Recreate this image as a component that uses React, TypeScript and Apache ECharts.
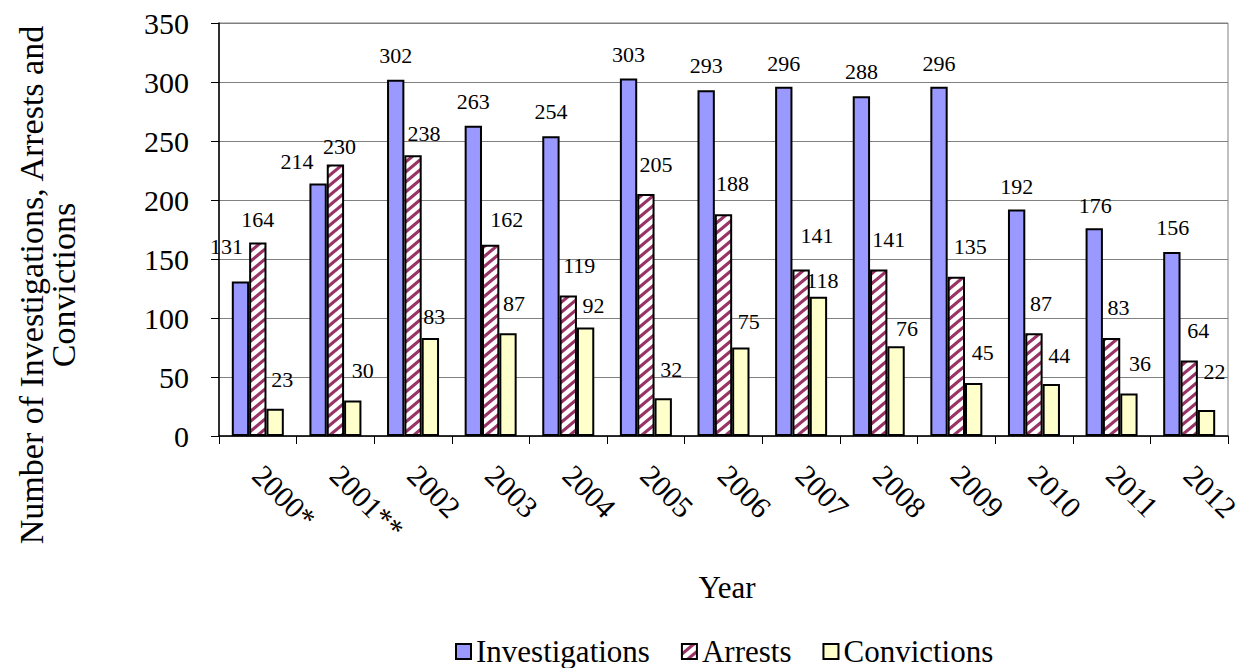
import React, { useEffect, useRef } from "react";
import * as echarts from "echarts";

const years = ["2000*", "2001**", "2002", "2003", "2004", "2005", "2006", "2007", "2008", "2009", "2010", "2011", "2012"];
const investigations = [131, 214, 302, 263, 254, 303, 293, 296, 288, 296, 192, 176, 156];
const arrests = [164, 230, 238, 162, 119, 205, 188, 141, 141, 135, 87, 83, 64];
const convictions = [23, 30, 83, 87, 92, 32, 75, 118, 76, 45, 44, 36, 22];
const yTicks = [0, 50, 100, 150, 200, 250, 300, 350];

// label placement (dx, dy of label centre relative to bar top centre), as in the source chart
const invLabelPos = [[-14, -35], [-21, -22], [0, -24], [0, -24], [0, -25], [0, -24], [0, -25], [0, -23], [0, -25], [0, -23], [0, -23], [1, -23], [1, -24]];
const arrLabelPos = [[0, -23], [4, -18], [11, -22], [16, -25], [11, -30], [10, -30], [9, -31], [16, -34], [10, -30], [14, -30], [7, -30], [7, -31], [9, -30]];
const conLabelPos = [[7, -29], [10, -30], [4, -22], [6, -30], [8, -22], [8, -29], [8, -26], [4, -16], [11, -18], [9, -30], [8, -29], [11, -30], [8, -39]];

const FONT = "Liberation Serif";

function makeStripe() {
  const c = document.createElement("canvas");
  const w = 12, h = 10;
  c.width = w; c.height = h;
  const ctx = c.getContext("2d")!;
  ctx.fillStyle = "#ffffff";
  ctx.fillRect(0, 0, w, h);
  ctx.strokeStyle = "#993366";
  ctx.lineWidth = 3.2;
  for (let k = -1; k <= 1; k++) {
    ctx.beginPath();
    ctx.moveTo(-w + k * w, 2 * h);
    ctx.lineTo(2 * w + k * w, -h);
    ctx.stroke();
  }
  return c;
}

function buildData(values: number[], pos: number[][]) {
  return values.map((v, i) => ({
    value: v,
    label: { offset: [pos[i][0], pos[i][1] + 11] },
  }));
}

export default function App() {
  const ref = useRef<HTMLDivElement>(null);
  useEffect(() => {
    if (!ref.current) return;
    const chart = echarts.init(ref.current, null, { renderer: "svg" });
    const stripe = makeStripe();
    const labelStyle = {
      show: true,
      position: "top" as const,
      distance: 0,
      fontFamily: FONT,
      fontSize: 22,
      lineHeight: 22,
      color: "#000",
    };
    chart.setOption({
      animation: false,
      backgroundColor: "#fff",
      textStyle: { fontFamily: FONT },
      grid: { left: 219, right: 21, top: 23, bottom: 232, show: true, borderColor: "#808080", borderWidth: 1 },
      legend: {
        left: 455,
        top: 636,
        icon: "rect",
        itemWidth: 15,
        itemHeight: 15,
        itemGap: 31,
        padding: 0,
        textStyle: { fontFamily: FONT, fontSize: 31, lineHeight: 30, color: "#000" },
        itemStyle: { borderColor: "#000", borderWidth: 2 },
        data: ["Investigations", "Arrests", "Convictions"],
      },
      xAxis: {
        type: "category",
        data: years,
        axisLine: { lineStyle: { color: "#000", width: 1.5 } },
        axisTick: { show: true, length: 8, lineStyle: { color: "#000" } },
        axisLabel: { rotate: -45, margin: 34, fontFamily: FONT, fontSize: 30, color: "#000", interval: 0 },
      },
      yAxis: {
        type: "value",
        min: yTicks[0],
        max: yTicks[yTicks.length - 1],
        interval: 50,
        axisLine: { show: true, lineStyle: { color: "#000", width: 1.5 } },
        axisTick: { show: true, length: 8, lineStyle: { color: "#000" } },
        axisLabel: { margin: 30, fontFamily: FONT, fontSize: 30, color: "#000" },
        splitLine: { lineStyle: { color: "#808080", width: 1 } },
      },
      series: [
        {
          name: "Investigations",
          type: "bar",
          barGap: "0%",
          barCategoryGap: "33%",
          itemStyle: { color: "#9999FF", borderColor: "#000", borderWidth: 2 },
          label: labelStyle,
          data: buildData(investigations, invLabelPos),
        },
        {
          name: "Arrests",
          type: "bar",
          barGap: "0%",
          barCategoryGap: "33%",
          itemStyle: { color: { image: stripe, repeat: "repeat" }, borderColor: "#000", borderWidth: 2 },
          label: labelStyle,
          data: buildData(arrests, arrLabelPos),
        },
        {
          name: "Convictions",
          type: "bar",
          z: 1,
          barGap: "0%",
          barCategoryGap: "33%",
          itemStyle: { color: "#FFFFCC", borderColor: "#000", borderWidth: 2 },
          label: labelStyle,
          data: buildData(convictions, conLabelPos),
        },
      ],
      graphic: [
        {
          type: "text",
          x: 47,
          y: 285,
          rotation: Math.PI / 2,
          style: {
            text: "Number of Investigations, Arrests and\nConvictions",
            fontFamily: FONT,
            fontSize: 34,
            fill: "#000",
            align: "center",
            verticalAlign: "middle",
            lineHeight: 32,
          },
        },
        {
          type: "text",
          x: 727,
          y: 587,
          style: {
            text: "Year",
            fontFamily: FONT,
            fontSize: 31,
            fill: "#000",
            align: "center",
            verticalAlign: "middle",
          },
        },
      ],
    });
    return () => chart.dispose();
  }, []);
  return <div ref={ref} style={{ position: "absolute", left: 0, top: 0, width: 1249, height: 668 }} />;
}
